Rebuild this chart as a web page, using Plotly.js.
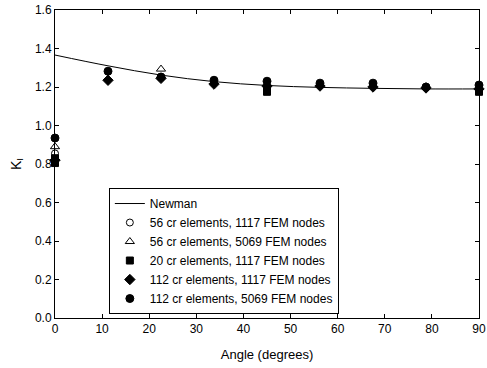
<!DOCTYPE html>
<html><head><meta charset="utf-8">
<script src="https://cdn.plot.ly/plotly-3.0.1.min.js"></script>
<style>html,body{margin:0;padding:0;background:#fff;}</style>
</head><body><div id="chart" style="width:487px;height:368px;"></div>
<script>
const newmanX = [0, 11.25, 22.5, 33.75, 45, 56.25, 67.5, 78.75, 90];
const newmanY = [1.366, 1.31, 1.262, 1.228, 1.208, 1.198, 1.193, 1.19, 1.19];
const s56a_X = [0];
const s56a_Y = [0.855];
const s56b_X = [0, 22.5];
const s56b_Y = [0.89, 1.293];
const s20_X = [0, 0, 45, 45, 90];
const s20_Y = [0.805, 0.83, 1.175, 1.19, 1.175];
const s112a_X = [0, 11.25, 22.5, 33.75, 45, 56.25, 67.5, 78.75, 90];
const s112a_Y = [0.82, 1.235, 1.245, 1.215, 1.205, 1.205, 1.2, 1.195, 1.19];
const s112b_X = [0, 11.25, 22.5, 33.75, 45, 56.25, 67.5, 78.75, 90];
const s112b_Y = [0.935, 1.282, 1.252, 1.235, 1.23, 1.22, 1.22, 1.2, 1.21];
const xTicks = [0, 10, 20, 30, 40, 50, 60, 70, 80, 90];
const names = ["Newman", "56 cr elements, 1117 FEM nodes", "56 cr elements, 5069 FEM nodes",
  "20 cr elements, 1117 FEM nodes", "112 cr elements, 1117 FEM nodes", "112 cr elements, 5069 FEM nodes"];

const mk = (sym, size) => ({symbol: sym, size: size, color: 'black', line: {color: 'black', width: 1}});
const traces = [
  {x: newmanX, y: newmanY, name: names[0], mode: 'lines', line: {color: 'black', width: 1, shape: 'spline'}, cliponaxis: false},
  {x: s56a_X, y: s56a_Y, name: names[1], mode: 'markers', marker: mk('circle-open', 7), cliponaxis: false},
  {x: s56b_X, y: s56b_Y, name: names[2], mode: 'markers', marker: mk('triangle-up-open', 8), cliponaxis: false},
  {x: s20_X, y: s20_Y, name: names[3], mode: 'markers', marker: mk('square', 7), cliponaxis: false},
  {x: s112a_X, y: s112a_Y, name: names[4], mode: 'markers', marker: mk('diamond', 8), cliponaxis: false},
  {x: s112b_X, y: s112b_Y, name: names[5], mode: 'markers', marker: mk('circle', 8), cliponaxis: false}
];
const axisCommon = {showgrid: false, zeroline: false, showline: true, linecolor: 'black', linewidth: 1,
  mirror: 'ticks', ticks: 'inside', ticklen: 4, tickcolor: 'black', ticklabeloverflow: 'allow',
  tickfont: {family: 'Liberation Sans, Arial, sans-serif', size: 12, color: 'black'}};
const layout = {
  width: 487, height: 368,
  margin: {l: 55, r: 8, t: 10, b: 50},
  paper_bgcolor: 'white', plot_bgcolor: 'white',
  font: {family: 'Liberation Sans, Arial, sans-serif', color: 'black'},
  showlegend: true,
  xaxis: Object.assign({}, axisCommon, {range: [0, 90], tickvals: xTicks,
    title: {text: 'Angle (degrees)', font: {size: 13}, standoff: 14}}),
  yaxis: Object.assign({}, axisCommon, {range: [0, 1.6], dtick: 0.2, tickformat: '.1f',
    title: {text: 'K<sub>I</sub>', font: {size: 14}, standoff: 10}}),
  legend: {x: 0.127, y: 0.422, xanchor: 'left', yanchor: 'top', bgcolor: 'white',
    bordercolor: 'black', borderwidth: 1, font: {size: 12}, tracegroupgap: 0, itemwidth: 30}
};
Plotly.newPlot('chart', traces, layout, {displayModeBar: false, staticPlot: true});
</script></body></html>
